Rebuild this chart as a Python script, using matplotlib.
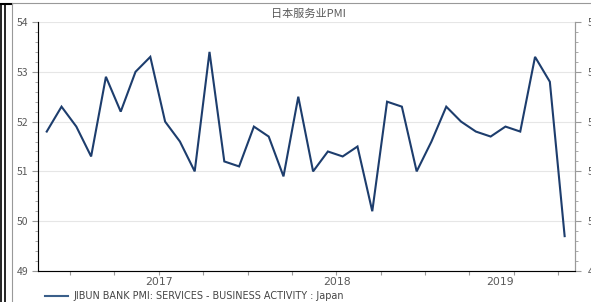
import matplotlib
matplotlib.use('Agg')
import matplotlib.pyplot as plt
from matplotlib.lines import Line2D
from matplotlib.ticker import MultipleLocator
import numpy as np

plt.rcParams['font.family'] = ['Noto Sans CJK SC', 'DejaVu Sans']

# monthly, Nov 2016 - Oct 2019
pmi = [51.8, 52.3, 51.9, 51.3, 52.9, 52.2, 53.0, 53.3, 52.0, 51.6, 51.0, 53.4,
       51.2, 51.1, 51.9, 51.7, 50.9, 52.5, 51.0, 51.4, 51.3, 51.5, 50.2, 52.4,
       52.3, 51.0, 51.6, 52.3, 52.0, 51.8, 51.7, 51.9, 51.8, 53.3, 52.8, 49.7]
year_labels = ['2017', '2018', '2019']
year_pos = [7.6, 19.6, 30.6]
tick_pos = [1.57 + 3 * k for k in range(12)]
title = '日本服务业PMI'
legend_text = 'JIBUN BANK PMI: SERVICES - BUSINESS ACTIVITY : Japan'

W, H = 591, 302
fig = plt.figure(figsize=(W / 100, H / 100), dpi=100)
ax = fig.add_axes([38 / W, 1 - 271 / H, (575 - 38) / W, (271 - 22) / H])

x = np.arange(len(pmi))
line_col = '#1d3d6d'
ax.plot(x, pmi, color=line_col, lw=1.5, solid_joinstyle='miter')

ax.set_xlim(-0.59, 35.7)
ax.set_ylim(49, 54)
ax.yaxis.set_major_locator(MultipleLocator(1))
ax.yaxis.set_minor_locator(MultipleLocator(0.2))
ax.grid(axis='y', color='#e6e6e6', lw=0.8)
ax.set_axisbelow(True)

gray = '#9a9a9a'
lab_col = '#5a5a5a'
ax.spines['top'].set_visible(False)
for s in ['left', 'right', 'bottom']:
    ax.spines[s].set_color(gray)
    ax.spines[s].set_linewidth(0.8)

ax.set_xticks(tick_pos)
ax.set_xticklabels([])
ax.tick_params(axis='x', length=3, color=gray, direction='out')
ax.tick_params(axis='y', which='major', length=4, color=gray, labelsize=7.5,
               labelcolor=lab_col, pad=3)
ax.tick_params(axis='y', which='minor', length=2, color=gray)
for xp, lab in zip(year_pos, year_labels):
    ax.text(xp, -0.025, lab, transform=ax.get_xaxis_transform(), ha='center',
            va='top', fontsize=7.8, color=lab_col, family=['DejaVu Sans'])

ax2 = ax.twinx()
ax2.set_ylim(49, 54)
ax2.yaxis.set_major_locator(MultipleLocator(1))
ax2.yaxis.set_minor_locator(MultipleLocator(0.2))
ax2.spines['top'].set_visible(False)
ax2.spines['right'].set_color(gray)
ax2.spines['right'].set_linewidth(0.8)
ax2.tick_params(axis='y', which='major', length=4, color=gray, labelsize=7.5,
                labelcolor=lab_col, pad=5)
ax2.tick_params(axis='y', which='minor', length=2, color=gray)

fig.text(308 / W, 1 - 14 / H, title, ha='center', va='center',
         fontsize=8, color=lab_col)

# legend
fig.add_artist(Line2D([45 / W, 68 / W], [1 - 296 / H] * 2, color='#3a5f8a', lw=1.5))
fig.text(73 / W, 1 - 296 / H, legend_text, ha='left', va='center',
         fontsize=6.9, color='#444444', family=['DejaVu Sans'])

# frame bits from the screenshot
fig.add_artist(Line2D([1.5 / W, 1.5 / W], [0, 1 - 4 / H], color='black', lw=1.2))
fig.add_artist(Line2D([4.5 / W, 4.5 / W], [0, 1 - 4 / H], color='black', lw=1.2))
fig.add_artist(Line2D([0, 12 / W], [1 - 4 / H] * 2, color='black', lw=1.5))
fig.add_artist(Line2D([12 / W, 12 / W], [0, 1 - 4 / H], color='#999999', lw=0.8))
fig.add_artist(Line2D([12 / W, 1], [1 - 3 / H] * 2, color='#999999', lw=0.8))

fig.savefig('out.png', dpi=100)
